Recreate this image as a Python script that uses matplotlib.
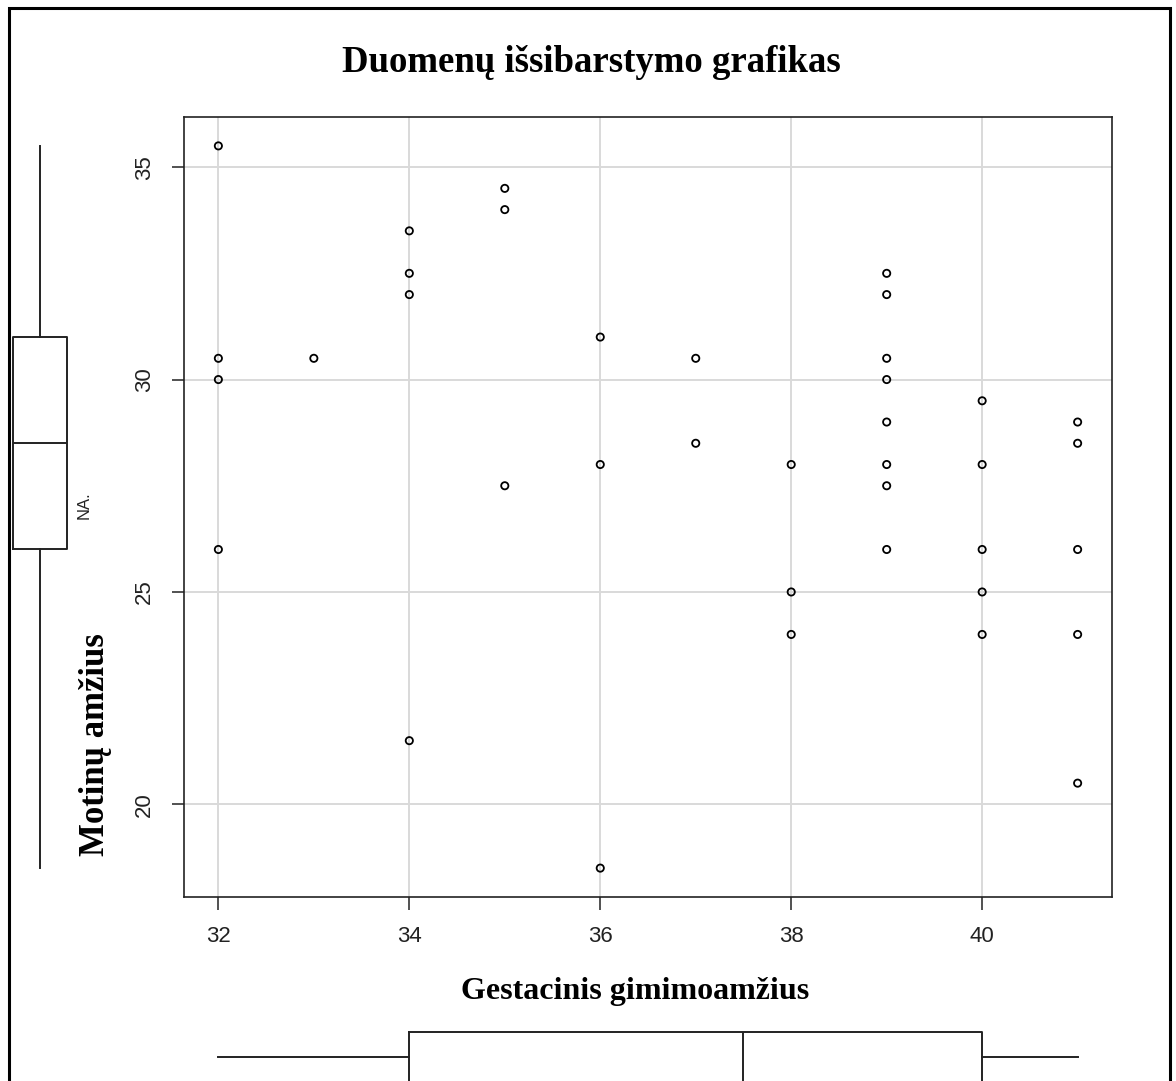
import matplotlib
matplotlib.use("Agg")
import matplotlib.pyplot as plt
from matplotlib.patches import Rectangle

# data
gest_age = [32, 32, 32, 32, 33, 34, 34, 34, 34, 35, 35, 35, 36, 36, 36, 37, 37,
            38, 38, 38, 39, 39, 39, 39, 39, 39, 39, 39, 40, 40, 40, 40, 40,
            41, 41, 41, 41, 41]
mother_age = [35.5, 30.5, 30, 26, 30.5, 33.5, 32.5, 32, 21.5, 34.5, 34, 27.5,
              31, 28, 18.5, 30.5, 28.5, 28, 25, 24, 32.5, 32, 30.5, 30, 29, 28,
              27.5, 26, 29.5, 28, 26, 25, 24, 29, 28.5, 26, 24, 20.5]

# boxplot summaries as drawn (whislo, q1, med, q3, whishi)
gest_box = [32, 34, 37.5, 40, 41]
mother_box = [18.5, 26, 28.5, 31, 35.5]

x_ticks = [32, 34, 36, 38, 40]
y_ticks = [20, 25, 30, 35]

W, H = 1176, 1081
fig = plt.figure(figsize=(W / 100, H / 100), dpi=100)


def px_axes(left, top, right, bottom):
    return fig.add_axes([left / W, 1 - bottom / H, (right - left) / W, (bottom - top) / H])


ax = px_axes(184, 117, 1112, 897)
ax.scatter(gest_age, mother_age, s=27, facecolors="none", edgecolors="black",
           linewidths=1.3, zorder=3)
ax.set_xlim(31.64, 41.36)
ax.set_ylim(17.82, 36.18)
ax.set_xticks(x_ticks)
ax.set_yticks(y_ticks)
ax.grid(True, color="#d9d9d9", linewidth=1.4, zorder=0)
ax.set_axisbelow(True)
for sp in ax.spines.values():
    sp.set_linewidth(1.2)
    sp.set_color("#222222")
ax.tick_params(length=9, width=1.1, color="#222222", pad=12,
               labelsize=16, labelcolor="#222222")
for lab in ax.get_xticklabels():
    lab.set_fontfamily("Liberation Sans")
for lab in ax.get_yticklabels():
    lab.set_fontfamily("Liberation Sans")
    lab.set_rotation(90)
    lab.set_va("center")

box_style = dict(showcaps=False, showfliers=False, patch_artist=False,
                 boxprops=dict(color="#222222", linewidth=1.4),
                 whiskerprops=dict(color="#222222", linewidth=1.4),
                 medianprops=dict(color="#222222", linewidth=1.4))

# left boxplot of mother's age
axl = px_axes(0, 117, 90, 897)
st = dict(whislo=mother_box[0], q1=mother_box[1], med=mother_box[2],
          q3=mother_box[3], whishi=mother_box[4], fliers=[])
axl.bxp([st], positions=[40], widths=54, orientation="vertical", **box_style)
axl.set_xlim(0, 90)
axl.set_ylim(17.82, 36.18)
axl.axis("off")

# bottom boxplot of gestational age
axb = px_axes(184, 1010, 1112, 1081)
st = dict(whislo=gest_box[0], q1=gest_box[1], med=gest_box[2],
          q3=gest_box[3], whishi=gest_box[4], fliers=[])
axb.bxp([st], positions=[47], widths=50, orientation="horizontal", **box_style)
axb.set_xlim(31.64, 41.36)
axb.set_ylim(71, 0)
axb.axis("off")

serif = "Liberation Serif"
fig.text(591 / W, 1 - 62 / H, "Duomenų išsibarstymo grafikas", ha="center",
         va="center", fontsize=26.5, fontweight="bold", family=serif)
fig.text(635 / W, 1 - 991 / H, "Gestacinis gimimoamžius", ha="center",
         va="center", fontsize=23, fontweight="bold", family=serif)
fig.text(95 / W, 1 - 745 / H, "Motinų amžius", ha="center", va="center",
         rotation=90, fontsize=25, fontweight="bold", family=serif)
fig.text(84 / W, 1 - 505 / H, "NA.", ha="center", va="center", rotation=90,
         fontsize=12, family="Liberation Sans", color="#222222")

# outer frame around the whole device region
fig.patches.append(Rectangle((9 / W, -0.1), (1170 - 9) / W, 1 - 8 / H + 0.1,
                             transform=fig.transFigure, fill=False,
                             edgecolor="black", linewidth=2.2))

fig.savefig("out.png", dpi=100, facecolor="white")
